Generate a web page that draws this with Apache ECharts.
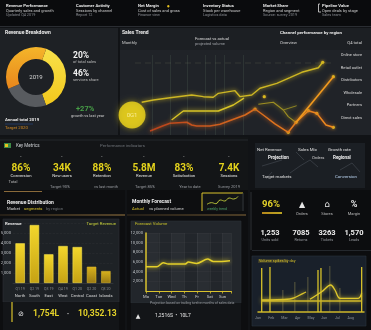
<!DOCTYPE html>
<html>
<head>
<meta charset="utf-8">
<script src="https://cdn.jsdelivr.net/npm/echarts@6/dist/echarts.min.js"></script>
<style>
  html, body { margin: 0; padding: 0; background: #111316; }
  #c { width: 371px; height: 330px; }
</style>
</head>
<body>
<div id="c"></div>
<script>
// ---------- data ----------
const donutNames = ['Products', 'Services', 'Licensing'];
const donutValues = [39, 24, 37];

// sales trend (x = position in period 0-100, y = index 0-100)
const trendUpper = [[5.7,40.9],[11.4,43.8],[19.5,46.6],[30.1,50],[35.8,47.9],[40.6,47.1],[43.1,52.1],[51.2,55.4],[53.7,47.9],[59.4,50],[63.4,58.4],[71.6,64.6],[78,71.6],[83.8,78.4],[91.9,84.1],[94,90.9]];
const trendMid = [[20.3,18.8],[26,30],[43.1,30],[50.4,37.5],[55.6,46]];
const trendMidLate = [[62.6,38.4],[69.9,40.9],[74.8,31.3],[77.2,22.9],[80.5,16.6]];
const trendMidBranch = [[74.8,31.3],[77.5,33.5],[81.3,36.6]];
const trendLow = [[9.8,5],[16.2,11.6],[19.5,14.6],[27.7,15.9],[30.1,12.5],[32.5,11.3],[39,11.3],[43.9,13.4],[47.2,16.6],[56.1,25],[61,32.5],[65,25],[70.7,13.8],[77.2,3.4],[81,15.9],[87,30.4],[91.1,27.1],[95.6,12.5],[99.2,9.6]];
const trendSpike = [[81,15.9],[99.2,72.9]];
const trendDots = [[61,32.5],[77.2,3.4],[81,15.9],[87,30.4],[91.1,27.1],[99.2,72.9],[94,90.9],[65.5,47.9],[99.2,9.6]];
const trendBadge = [[1,25]];
const trendGuides = [11, 19.5, 28, 36.5, 41.5, 46, 55];
const legendLabels = ['Online store', 'Retail outlet', 'Distributors', 'Wholesale', 'Partners', 'Direct sales'];

// revenue by region
const barCats = ['North', 'South', 'East', 'West', 'Central', 'Coast', 'Islands'];
const barSub = ['Q1 19', 'Q2 19', 'Q3 19', 'Q4 19', 'Q1 20', 'Q2 20', 'Q3 20'];
const barValues = [3970, 5800, 2870, 3700, 3600, 1630, 1200];

// monthly forecast
const forecastX = [0, 12.6, 20.4, 26.2, 45.9, 49.8, 59.6, 72.6, 79.2, 89, 98.8];
const forecastY = [5000, 5000, 5840, 5570, 5570, 5980, 5710, 6600, 6120, 6120, 6250];
const forecastTicks = ['Mo', 'Tue', 'Wed', 'Th', 'Fr', 'Sat', 'Sun'];

// volume spikes
const spikesBright = [[3.5,88],[11.3,90],[56.6,84],[59.4,88],[97.8,90]];
const spikesDim = [[23.6,44],[34.9,60],[47.2,70],[67.9,92],[77.4,48]];
const curveFirst = [[3.5,24],[30.2,26],[42.7,37.4],[45.3,40]];
const curveSecond = [[49,25.4],[60.1,40.6],[68.6,54],[72.6,44],[77.4,27.4],[94.6,27.4],[97.8,37.4]];
const baseLevel = [[3.5,22],[97.8,22]];
const spikeTicks = ['Jan', 'Feb', 'Mar', 'Apr', 'May', 'Jun', 'Jul', 'Aug'];

// mini sparkline
const sparkValues = [3, 4, 3.4, 5.6, 5, 6.8, 6.2, 7.6];

// KPI tiles
const kpiValues = ['86%', '34K', '88%', '5.8M', '83%', '7.4K'];
const kpiLabels = ['Conversion', 'New users', 'Retention', 'Revenue', 'Satisfaction', 'Sessions'];
const kpiNotes = ['Target 90%', 'vs last month', 'Target 85%', 'Year to date', 'Survey 2019'];
const statValues = ['1,253', '7085', '3263', '1,570'];

// ---------- helpers ----------
const FONT = 'Roboto, "DejaVu Sans", sans-serif';
function txt(x, y, text, size, fill, o) {
  o = o || {};
  return { type: 'text', x: x, y: y, z: 60, silent: true,
    style: { text: text, fill: fill, fontSize: size, fontFamily: FONT,
      fontWeight: o.weight || 'normal', align: o.align || 'left', verticalAlign: 'middle',
      textAlign: o.align || 'left', textVerticalAlign: 'middle', opacity: o.opacity == null ? 1 : o.opacity } };
}
function box(x, y, w, h, fill, o) {
  o = o || {};
  return { type: 'rect', z: o.z == null ? -30 : o.z, silent: true,
    shape: { x: x, y: y, width: w, height: h },
    style: { fill: fill, stroke: o.stroke || null, lineWidth: o.lw || 0 } };
}
function seg(x1, y1, x2, y2, stroke, lw, o) {
  o = o || {};
  return { type: 'line', z: o.z == null ? -10 : o.z, silent: true,
    shape: { x1: x1, y1: y1, x2: x2, y2: y2 },
    style: { stroke: stroke, lineWidth: lw, opacity: o.opacity == null ? 1 : o.opacity, lineDash: o.dash || null } };
}
function grad(c0, c1, horiz) {
  return new echarts.graphic.LinearGradient(0, 0, horiz ? 1 : 0, horiz ? 0 : 1, [
    { offset: 0, color: c0 }, { offset: 1, color: c1 }]);
}

// ---------- panels & text ----------
const g = [];
// backgrounds
g.push(box(0, 0, 371, 330, '#111316', { z: -40 }));
g.push(box(0, 0, 371, 26, '#0a0b0d'));
g.push(seg(0, 26.5, 371, 26.5, '#2a2d32', 1));
g.push(box(0, 28, 118, 107, '#1e2125'));
g.push(box(120, 28, 251, 107, '#1c1f23'));
g.push(box(120, 50, 251, 85, '#202328'));
g.push(box(0, 137, 248, 53, '#131517'));
g.push(seg(0, 140, 248, 140, '#25282c', 1));
g.push(box(250, 137, 121, 53, '#111316'));
g.push(box(255, 143, 110, 45, '#1b1f24'));
g.push(box(0, 190, 125, 140, '#0d0e10'));
g.push(box(3, 219, 116, 83, '#1e2226', { stroke: '#2b2f35', lw: 0.6 }));
g.push(box(3, 302, 116, 28, '#131518'));
g.push(box(127, 190, 121, 140, '#0d0e10'));
g.push(box(131, 221, 110, 82, '#22262b', { stroke: '#2e3238', lw: 0.6 }));
g.push(box(131, 303, 110, 27, '#131518'));
g.push(box(250, 190, 121, 140, '#0c0d0f'));
g.push(box(252, 256, 114, 70, '#19202a', { stroke: '#2a323c', lw: 0.6 }));
g.push(seg(251, 192, 251, 250, '#2c3035', 1));
g.push(seg(252, 250.5, 371, 250.5, '#24282d', 1));
// bronze accents
g.push(seg(4, 191.5, 42, 191.5, '#8a6a3a', 1));
g.push({ type: 'line', z: -5, silent: true, shape: { x1: 0, y1: 215, x2: 125, y2: 215 },
  style: { stroke: grad('#3a2e1e', '#a07c44', true), lineWidth: 1.2 } });
g.push({ type: 'line', z: -5, silent: true, shape: { x1: 127, y1: 215, x2: 246, y2: 215 },
  style: { stroke: grad('#3a2e1e', '#8a6c3c', true), lineWidth: 1.2 } });
// inset frame
g.push(box(202, 193, 42, 18, '#121416', { z: -8 }));
g.push({ type: 'polyline', z: -4, silent: true, shape: { points: [[202, 211], [202, 193], [243, 193]] },
  style: { stroke: '#d9c22c', lineWidth: 1, fill: null } });
g.push(seg(243, 193, 243, 211, '#3a3d42', 0.8, { z: -4 }));

// top strip
const topCols = [
  [6, 'Revenue Performance', 'Quarterly sales and growth', 'Updated Q4 2019'],
  [76, 'Customer Activity', 'Sessions by channel', 'Report 12'],
  [138, 'Net Margin', 'Cost of sales and gross', 'Finance view'],
  [203, 'Inventory Status', 'Stock per warehouse', 'Logistics data'],
  [263, 'Market Share', 'Region and segment', 'Source: survey 2019'],
  [322, 'Pipeline Value', 'Open deals by stage', 'Sales team']
];
topCols.forEach(function (c) {
  g.push(txt(c[0], 6, c[1], 4.2, '#e8e8e8', { weight: 'bold' }));
  g.push(txt(c[0], 11, c[2], 4, '#cfcfcf'));
  g.push(txt(c[0], 15.5, c[3], 3.8, '#8d9096'));
});
g.push(txt(167, 6, '●', 3, '#e8c21e'));
g.push({ type: 'polyline', z: 5, silent: true, shape: { points: [[320, 4], [318.5, 4], [318.5, 12], [321, 12]] },
  style: { stroke: '#e0e0e0', lineWidth: 0.8, fill: null } });

// donut panel
g.push(txt(5, 33, 'Revenue Breakdown', 5, '#eeeeee', { weight: 'bold' }));
g.push(txt(36, 77, '2019', 6, '#d8d8d8', { align: 'center' }));
g.push(txt(73, 56, '20%', 8.5, '#f2f2f2', { weight: 'bold' }));
g.push(txt(73, 62, 'of total sales', 4, '#bbbbbb'));
g.push(txt(73, 74, '46%', 8.5, '#f2f2f2', { weight: 'bold' }));
g.push(txt(73, 80, 'services share', 4, '#bbbbbb'));
g.push(txt(76, 109, '+27%', 7.5, '#48a048', { weight: 'bold' }));
g.push(txt(71, 116, 'growth vs last year', 4, '#cfcfcf'));
g.push(txt(5, 120, 'Annual total 2019', 4.3, '#e6e6e6', { weight: 'bold' }));
g.push(seg(5, 124, 33, 124, '#23406e', 0.8));
g.push(txt(5, 128, 'Target 2020', 4.3, '#d48a22'));

// trend panel header
g.push(txt(122, 33, 'Sales Trend', 5, '#eeeeee', { weight: 'bold' }));
g.push(txt(122, 43, 'Monthly', 4.2, '#cfcfcf'));
g.push(txt(195, 39, 'Forecast vs actual', 4.2, '#d8d8d8'));
g.push(txt(195, 44, 'projected volume', 3.9, '#9ea1a6'));
g.push(txt(280, 33, 'Channel performance by region', 4.4, '#e6e6e6', { weight: 'bold' }));
g.push(txt(280, 43, 'Overview', 4.2, '#d8d8d8'));
g.push(txt(362, 43, 'Q4 total', 4.2, '#d8d8d8', { align: 'right' }));
legendLabels.forEach(function (s, i) {
  g.push(txt(362, 55 + i * 12.6, s, 4, '#dcdcdc', { align: 'right' }));
});
g.push(seg(135, 63, 335, 63, '#8a8c70', 0.6, { opacity: 0.35, dash: [6, 4] }));

// KPI row
g.push(box(4, 143, 7, 5, '#3c8a46', { z: -2 }));
g.push(box(5, 144, 3, 3, '#e8c21e', { z: -1 }));
g.push(txt(16, 145.5, 'Key Metrics', 4.5, '#cfd2d6'));
g.push(txt(100, 145.5, 'Performance indicators', 4.3, '#6f7378'));
const kpiX = [21, 62, 102, 144, 184, 229];
kpiX.forEach(function (x, i) {
  g.push(txt(x, 157, '•', 4, '#bdbdbd', { align: 'center' }));
  g.push(txt(x, 168, kpiValues[i], 10, '#e3d21c', { weight: 'bold', align: 'center' }));
  g.push(txt(x, 175.5, kpiLabels[i], 4.2, '#e6e6e6', { align: 'center' }));
});
g.push(txt(13, 182, 'Total', 4, '#bbbbbb', { align: 'center' }));
[60, 106, 145, 190, 229].forEach(function (x, i) {
  g.push(txt(x, 187, kpiNotes[i], 4, '#9a9da2', { align: 'center' }));
});

// right middle panel
g.push(txt(257, 150, 'Net Revenue', 4.4, '#e0e0e0'));
g.push(txt(298, 150, 'Sales Mix', 4.4, '#e0e0e0'));
g.push(txt(328, 150, 'Growth rate', 4.4, '#e0e0e0'));
g.push(txt(268, 158, 'Projection', 4.5, '#f4f4f4', { weight: 'bold' }));
g.push(txt(312, 158, 'Orders', 4.2, '#cfcfcf'));
g.push(txt(333, 158, 'Regional', 4.5, '#f4f4f4', { weight: 'bold' }));
g.push(txt(262, 177, 'Target markets', 4.4, '#e0e0e0'));
g.push(txt(335, 177, 'Conversion', 4.4, '#b9d2ef'));
[[262, 166, 282, 160], [290, 173, 300, 166], [300, 166, 310, 160], [310, 160, 318, 167],
 [340, 170, 352, 163], [352, 163, 360, 172], [272, 172, 266, 179], [296, 152, 304, 160]].forEach(function (l) {
  g.push(seg(l[0], l[1], l[2], l[3], '#8d98a6', 0.5, { opacity: 0.45, z: -2 }));
});

// bar panel text
g.push(txt(7, 202.5, 'Revenue Distribution', 5, '#eeeeee', { weight: 'bold' }));
g.push(txt(7, 208.5, 'Market', 4.2, '#d8d8d8'));
g.push(txt(24, 208.5, 'segments', 4.2, '#d8c229'));
g.push(txt(46, 208.5, 'by region', 4.2, '#6f7378'));
g.push(txt(5, 224, 'Revenue', 4.3, '#e6e6e6', { weight: 'bold' }));
g.push(txt(116, 224, 'Target Revenue', 4.3, '#c9d23a', { align: 'right' }));
g.push(seg(12, 302, 12, 322, '#d9c22c', 1.2, { z: 5 }));
g.push(txt(21, 314, '⊘', 7, '#e6e6e6', { align: 'center' }));
g.push(txt(33, 314, '1,754L', 8.5, '#e6d42a', { weight: 'bold' }));
g.push(txt(68, 314, '•', 6, '#cfcfcf', { align: 'center' }));
g.push(txt(78, 314, '10,352.13', 8.5, '#e6d42a', { weight: 'bold' }));

// forecast panel text
g.push(txt(132, 202, 'Monthly Forecast', 5, '#eeeeee', { weight: 'bold' }));
g.push(txt(132, 208.5, 'Actual', 4.2, '#d8c229'));
g.push(txt(149, 208.5, 'vs planned volume', 4.2, '#cfcfcf'));
g.push(txt(207, 209.5, 'weekly trend', 3.6, '#4ea26a'));
g.push(txt(135, 224, 'Forecast Volume', 4.3, '#c9c229'));
g.push(txt(150, 303.5, 'Projection based on trailing twelve months of sales data', 3.4, '#9a9da2'));
g.push(txt(138, 316, '▲', 6, '#e6e6e6', { align: 'center' }));
g.push(txt(155, 316, '1,2516S  •  10L7', 5, '#e6e6e6'));

// right KPI block
g.push(txt(262, 205, '96%', 9.5, '#e6d42a', { weight: 'bold' }));
g.push({ type: 'line', z: 5, silent: true, shape: { x1: 262, y1: 213, x2: 282, y2: 213 },
  style: { stroke: grad('#e0a21c', '#e8cf2a', true), lineWidth: 1.6 } });
g.push(txt(302, 205, '▲', 8, '#e6e6e6', { align: 'center' }));
g.push(txt(327, 205, '⌂', 9, '#e6e6e6', { align: 'center' }));
g.push(txt(354, 205, '%', 9, '#e6e6e6', { align: 'center', weight: 'bold' }));
[302, 327, 354].forEach(function (x, i) {
  g.push(txt(x, 214, ['Orders', 'Stores', 'Margin'][i], 4, '#bdbdbd', { align: 'center' }));
});
[270, 301, 327, 354].forEach(function (x, i) {
  g.push(txt(x, 233, statValues[i], 7.5, '#eeeeee', { weight: 'bold', align: 'center' }));
  g.push(txt(x, 240.5, ['Units sold', 'Returns', 'Tickets', 'Leads'][i], 3.8, '#9a9da2', { align: 'center' }));
});
g.push(box(258, 259, 30, 4, '#3a3a2a', { z: -6 }));
g.push(txt(259, 261, 'Volume spikes by day', 3.8, '#d8c229'));

// ---------- chart ----------
const chart = echarts.init(document.getElementById('c'), null, { renderer: 'canvas', width: 371, height: 330 });

const noLine = { show: false };
const lineGlow = function (color, w) {
  return { color: color, width: w, shadowBlur: 4, shadowColor: color };
};

const option = {
  animation: false,
  backgroundColor: '#111316',
  graphic: { elements: g },
  grid: [
    { left: 130, top: 55, width: 205, height: 80, outerBoundsMode: 'none', containLabel: false },
    { left: 13, top: 223, width: 100, height: 60, outerBoundsMode: 'none', containLabel: false },
    { left: 146, top: 233, width: 85, height: 58, outerBoundsMode: 'none', containLabel: false },
    { left: 258, top: 262, width: 106, height: 50, outerBoundsMode: 'none', containLabel: false },
    { left: 207, top: 196, width: 31, height: 10, outerBoundsMode: 'none', containLabel: false }
  ],
  xAxis: [
    { gridIndex: 0, type: 'value', min: 0, max: 100, show: false },
    { gridIndex: 1, type: 'category', data: barCats,
      axisLine: { show: true, lineStyle: { color: '#3a3e44', width: 0.6 } }, axisTick: noLine,
      axisLabel: { margin: 3, interval: 0,
        formatter: function (v, i) { return '{a|' + barSub[i] + '}\n{b|' + v + '}'; },
        rich: { a: { fontSize: 3.6, color: '#8a8d92', fontFamily: FONT, lineHeight: 6 },
                b: { fontSize: 4.2, color: '#d8d8d8', fontFamily: FONT, lineHeight: 7 } } } },
    { gridIndex: 2, type: 'value', min: 0, max: 100, interval: 15,
      axisLine: { show: true, lineStyle: { color: '#d9c22c', width: 1.2 } },
      axisTick: { show: true, length: 2.5, lineStyle: { color: '#d9c22c', width: 0.8 } },
      axisLabel: { fontSize: 4.2, color: '#cfcfcf', fontFamily: FONT, margin: 4,
        formatter: function (v) { return forecastTicks[Math.round(v / 15)] || ''; } },
      splitLine: { show: true, lineStyle: { color: 'rgba(255,255,255,0.05)', width: 1 } },
      splitArea: { show: true, areaStyle: { color: ['rgba(255,255,255,0.035)', 'rgba(255,255,255,0.0)'] } } },
    { gridIndex: 3, type: 'value', min: 0, max: 100, interval: 12.5,
      axisLine: { show: true, lineStyle: { color: '#cdb62a', width: 1.5 } },
      axisTick: noLine,
      axisLabel: { fontSize: 3.6, color: '#8f949b', fontFamily: FONT, margin: 4,
        formatter: function (v) { return spikeTicks[Math.round(v / 12.5)] || ''; } },
      splitLine: noLine },
    { gridIndex: 4, type: 'value', min: 0, max: 7, show: false }
  ],
  yAxis: [
    { gridIndex: 0, type: 'value', min: 0, max: 100, show: false },
    { gridIndex: 1, type: 'value', min: 0, max: 6000, interval: 1000,
      axisLine: noLine, axisTick: noLine,
      axisLabel: { fontSize: 4.2, color: '#bfc2c6', fontFamily: FONT, margin: 2, showMinLabel: false, showMaxLabel: false },
      splitLine: { show: true, lineStyle: { color: 'rgba(255,255,255,0.06)', width: 0.6, type: 'dashed' } } },
    { gridIndex: 2, type: 'value', min: 0, max: 12000, interval: 2000,
      axisLine: { show: true, lineStyle: { color: '#d9c22c', width: 1.5 } }, axisTick: noLine,
      axisLabel: { fontSize: 4.2, color: '#bfc2c6', fontFamily: FONT, margin: 3, showMinLabel: false },
      splitLine: { show: true, lineStyle: { color: 'rgba(255,255,255,0.05)', width: 0.6 } } },
    { gridIndex: 3, type: 'value', min: 0, max: 100, show: false },
    { gridIndex: 4, type: 'value', min: 2, max: 8, show: false }
  ],
  series: [
    // donut
    { type: 'pie', center: [36, 77], radius: [18, 30], startAngle: 70, clockwise: true, silent: true,
      label: { show: false }, labelLine: { show: false }, emphasis: { disabled: true },
      itemStyle: { borderWidth: 0 },
      data: donutValues.map(function (v, i) {
        const colors = [grad('#f8e04a', '#f2c81c'), '#585b5f', grad('#f4b52a', '#e8861c', false)];
        return { value: v, name: donutNames[i], itemStyle: { color: colors[i] } };
      }) },

    // trend guides
    { type: 'line', xAxisIndex: 0, yAxisIndex: 0, data: [], silent: true,
      markLine: { silent: true, symbol: 'none', label: { show: false },
        lineStyle: { color: 'rgba(140,170,140,0.22)', width: 0.6, type: 'solid' },
        data: trendGuides.map(function (x) { return { xAxis: x }; }) } },
    // trend lines
    { type: 'line', xAxisIndex: 0, yAxisIndex: 0, data: trendUpper, showSymbol: false, silent: true,
      lineStyle: lineGlow('#cdb623', 1.4) },
    { type: 'line', xAxisIndex: 0, yAxisIndex: 0, data: trendMid, showSymbol: false, silent: true,
      lineStyle: lineGlow('#d8c426', 1.4) },
    { type: 'line', xAxisIndex: 0, yAxisIndex: 0, data: trendMidLate, showSymbol: false, silent: true,
      lineStyle: lineGlow('#9e8f22', 1.1) },
    { type: 'line', xAxisIndex: 0, yAxisIndex: 0, data: trendMidBranch, showSymbol: false, silent: true,
      lineStyle: lineGlow('#8e8424', 1) },
    { type: 'line', xAxisIndex: 0, yAxisIndex: 0, data: trendLow, showSymbol: false, silent: true,
      lineStyle: { width: 1.5, color: grad('#b8401c', '#f08c1e', true), shadowBlur: 4, shadowColor: '#d0601c' } },
    { type: 'line', xAxisIndex: 0, yAxisIndex: 0, data: trendSpike, showSymbol: false, silent: true,
      lineStyle: lineGlow('#f29a1e', 1.6) },
    { type: 'scatter', xAxisIndex: 0, yAxisIndex: 0, data: trendDots, symbolSize: 3.2, silent: true,
      itemStyle: { color: '#f5d21e', shadowBlur: 3, shadowColor: '#f5b01e' } },
    { type: 'scatter', xAxisIndex: 0, yAxisIndex: 0, data: trendBadge, symbolSize: 27, silent: true, z: 5,
      itemStyle: { color: '#f3da1c', shadowBlur: 6, shadowColor: 'rgba(243,218,28,0.6)' },
      label: { show: true, position: 'inside', formatter: '0G1', fontSize: 6, color: '#fff6b0', fontFamily: FONT } },

    // revenue bars
    { type: 'bar', xAxisIndex: 1, yAxisIndex: 1, barWidth: '66%', silent: true,
      data: barValues.map(function (v, i) {
        const dark = i >= 5;
        return { value: v, itemStyle: {
          color: dark ? grad('#d9b21c', '#9a7a14') : grad('#f3d72c', '#c6a214'),
          borderColor: dark ? '#d8b42a' : '#f7e24e', borderWidth: 0.6 } };
      }) },

    // monthly forecast line
    { type: 'line', xAxisIndex: 2, yAxisIndex: 2, smooth: 0.3, showSymbol: false, silent: true,
      data: forecastX.map(function (x, i) { return [x, forecastY[i]]; }),
      lineStyle: lineGlow('#e3cf2a', 1.5) },

    // volume spikes
    { type: 'bar', xAxisIndex: 3, yAxisIndex: 3, data: spikesDim, barWidth: 1, silent: true, barGap: '-100%',
      itemStyle: { color: 'rgba(170,160,90,0.45)' } },
    { type: 'bar', xAxisIndex: 3, yAxisIndex: 3, data: spikesBright, barWidth: 1.3, silent: true,
      itemStyle: { color: '#d8c22a' } },
    { type: 'line', xAxisIndex: 3, yAxisIndex: 3, data: baseLevel, showSymbol: false, silent: true,
      lineStyle: lineGlow('#cdb62a', 1.4) },
    { type: 'line', xAxisIndex: 3, yAxisIndex: 3, data: curveFirst, smooth: 0.4, showSymbol: false, silent: true,
      lineStyle: lineGlow('#d9c22c', 1.3) },
    { type: 'line', xAxisIndex: 3, yAxisIndex: 3, data: curveSecond, smooth: 0.35, showSymbol: false, silent: true,
      lineStyle: lineGlow('#e0c92c', 1.3) },

    // sparkline
    { type: 'line', xAxisIndex: 4, yAxisIndex: 4, data: sparkValues.map(function (v, i) { return [i, v]; }),
      smooth: true, showSymbol: false, silent: true, lineStyle: { color: '#b8c23a', width: 1 } }
  ]
};

chart.setOption(option);
</script>
</body>
</html>
